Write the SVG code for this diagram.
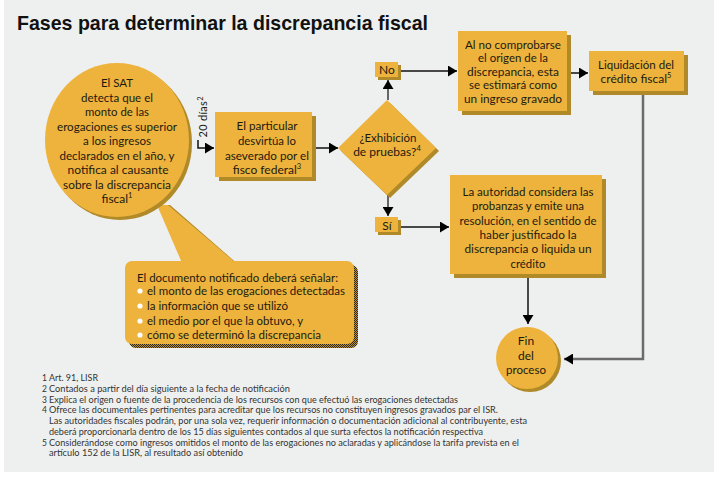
<svg xmlns="http://www.w3.org/2000/svg" width="720" height="480" viewBox="0 0 720 480">
<defs>
<style>
.gold{fill:#edb33c}
.sh{fill:#b08929}
.t{font-family:Lato,"Open Sans",sans-serif;font-size:12px;fill:#1e1a10;text-anchor:middle}
.s{font-size:11px}
.l{font-family:Lato,"Open Sans",sans-serif;font-size:11px;fill:#1e1a10}
.fn{font-family:Lato,"Open Sans",sans-serif;font-size:8.5px;fill:#333}
.sup{font-size:7.5px}
.ln{fill:none;stroke:#111;stroke-width:1.5}
.lg{fill:none;stroke:#666;stroke-width:2}
.lr{fill:none;stroke:#6b6b6b;stroke-width:2.5}
</style>
<marker id="ah" markerUnits="userSpaceOnUse" markerWidth="10" markerHeight="11" refX="9" refY="5.5" orient="auto"><path d="M0,0 L9,5.5 L0,11 Z" fill="#000"/></marker>
<pattern id="chk" width="2" height="2" patternUnits="userSpaceOnUse"><rect width="2" height="2" fill="#b99030"/><rect width="1" height="1" fill="#2b2618"/><rect x="1" y="1" width="1" height="1" fill="#2b2618"/></pattern>
</defs>
<rect x="0" y="0" width="720" height="480" fill="#ffffff"/>
<rect x="4" y="0" width="710" height="472" fill="#eef0ef"/>
<text x="17" y="30" font-family="'Liberation Sans',Arial,sans-serif" font-weight="bold" font-size="21" fill="#111" textLength="411" lengthAdjust="spacingAndGlyphs">Fases para determinar la discrepancia fiscal</text>

<g id="connectors">
<path class="ln" d="M198,140 V148 H214" marker-end="url(#ah)"/>
<path class="ln" d="M315,148 H338" marker-end="url(#ah)"/>
<path class="lg" d="M388,100 V80" marker-end="url(#ah)"/>
<path class="ln" d="M401,71 H457" stroke="#333" marker-end="url(#ah)"/>
<path class="lg" d="M388,195 V216" marker-end="url(#ah)"/>
<path class="ln" d="M401,227 H449" stroke="#333" marker-end="url(#ah)"/>
<path class="ln" d="M570,73 H588" marker-end="url(#ah)"/>
<path class="lr" d="M643,94 V359 H564" marker-end="url(#ah)"/>
<path class="ln" d="M528,278 V324" marker-end="url(#ah)"/>
<text x="207" y="117" class="l" text-anchor="middle" transform="rotate(-90 207 117)" textLength="41">20 días<tspan class="sup" dy="-4">2</tspan></text>
</g>

<g id="n-documento">
<polygon class="sh" points="170,205 240,266 236,266 166,205"/>
<rect x="129" y="265" width="229" height="83" rx="7" fill="url(#chk)"/>
<rect x="125" y="261" width="229" height="83" rx="7" class="gold"/>
<polygon class="gold" points="157,205 168,205 236,263 182,263"/>
<text class="l" x="137" y="282" textLength="201" lengthAdjust="spacingAndGlyphs">El documento notificado deberá señalar:</text>
<g fill="#ffffff"><circle cx="140" cy="291" r="2.6"/><circle cx="140" cy="306" r="2.6"/><circle cx="140" cy="321" r="2.6"/><circle cx="140" cy="335" r="2.6"/></g>
<text class="l" x="147" y="295" textLength="198" lengthAdjust="spacingAndGlyphs">el monto de las erogaciones detectadas</text>
<text class="l" x="147" y="310" textLength="141" lengthAdjust="spacingAndGlyphs">la información que se utilizó</text>
<text class="l" x="147" y="325" textLength="156" lengthAdjust="spacingAndGlyphs">el medio por el que la obtuvo, y</text>
<text class="l" x="147" y="339" textLength="174" lengthAdjust="spacingAndGlyphs">cómo se determinó la discrepancia</text>
</g>

<g id="n-sat">
<ellipse cx="120" cy="143" rx="72" ry="77" class="sh"/>
<ellipse cx="117" cy="140" rx="72" ry="77" class="gold"/>
<text class="t" x="117" y="87" textLength="32" lengthAdjust="spacingAndGlyphs">El  SAT</text>
<text class="t" x="117" y="102" textLength="72" lengthAdjust="spacingAndGlyphs">detecta que el</text>
<text class="t" x="117" y="116" textLength="64" lengthAdjust="spacingAndGlyphs">monto de las</text>
<text class="t" x="117" y="131" textLength="120" lengthAdjust="spacingAndGlyphs">erogaciones es superior</text>
<text class="t" x="117" y="145" textLength="68" lengthAdjust="spacingAndGlyphs">a los ingresos</text>
<text class="t" x="117" y="160" textLength="115" lengthAdjust="spacingAndGlyphs">declarados en el año, y</text>
<text class="t" x="118" y="174" textLength="101" lengthAdjust="spacingAndGlyphs">notifica al  causante</text>
<text class="t" x="117" y="189" textLength="108" lengthAdjust="spacingAndGlyphs">sobre  la discrepancia</text>
<text class="t" x="117" y="203">fiscal<tspan class="sup" dy="-5">1</tspan></text>
</g>

<g id="n-particular">
<rect x="219" y="116" width="97" height="65" class="sh"/>
<rect x="215" y="112" width="97" height="65" class="gold"/>
<text class="t" x="267" y="130" textLength="61" lengthAdjust="spacingAndGlyphs">El particular</text>
<text class="t" x="267" y="145" textLength="58" lengthAdjust="spacingAndGlyphs">desvirtúa lo</text>
<text class="t" x="267" y="160" textLength="84" lengthAdjust="spacingAndGlyphs">aseverado por el</text>
<text class="t" x="267" y="174">fisco federal<tspan class="sup" dy="-5">3</tspan></text>
</g>

<g id="n-exhibicion">
<polygon class="sh" points="390,103 439,151 390,198 341,151"/>
<polygon class="gold" points="387,100 436,148 387,195 338,148"/>
<text class="t" x="388" y="142" textLength="57" lengthAdjust="spacingAndGlyphs">¿Exhibición</text>
<text class="t" x="387" y="156">de pruebas?<tspan class="sup" dy="-5">4</tspan></text>
</g>

<g id="n-no">
<rect x="378" y="65" width="23" height="15" class="sh"/>
<rect x="375" y="62" width="23" height="15" class="gold"/>
<text class="t" x="387" y="74">No</text>
</g>

<g id="n-si">
<rect x="378" y="220" width="23" height="15" class="sh"/>
<rect x="375" y="217" width="23" height="15" class="gold"/>
<text class="t" x="387" y="230">Sí</text>
</g>

<g id="n-estimara">
<rect x="462" y="35" width="109" height="80" class="sh"/>
<rect x="458" y="31" width="109" height="80" class="gold"/>
<text class="t s" x="513" y="49" textLength="96" lengthAdjust="spacingAndGlyphs">Al no comprobarse</text>
<text class="t s" x="513" y="62" textLength="70" lengthAdjust="spacingAndGlyphs">el origen de la</text>
<text class="t s" x="513" y="76" textLength="92" lengthAdjust="spacingAndGlyphs">discrepancia, esta</text>
<text class="t s" x="513" y="89" textLength="88" lengthAdjust="spacingAndGlyphs">se estimará como</text>
<text class="t s" x="513" y="103" textLength="98" lengthAdjust="spacingAndGlyphs">un ingreso gravado</text>
</g>

<g id="n-liquidacion">
<rect x="593" y="55" width="95" height="40" class="sh"/>
<rect x="589" y="51" width="95" height="40" class="gold"/>
<text class="t" x="636" y="69" textLength="76" lengthAdjust="spacingAndGlyphs">Liquidación del</text>
<text class="t" x="636" y="83">crédito fiscal<tspan class="sup" dy="-5">5</tspan></text>
</g>

<g id="n-autoridad">
<rect x="454" y="179" width="152" height="99" class="sh"/>
<rect x="450" y="175" width="152" height="99" class="gold"/>
<text class="t" x="528" y="196" textLength="131" lengthAdjust="spacingAndGlyphs">La autoridad considera las</text>
<text class="t" x="528" y="210" textLength="112" lengthAdjust="spacingAndGlyphs">probanzas y emite una</text>
<text class="t" x="528" y="225" textLength="137" lengthAdjust="spacingAndGlyphs">resolución, en el sentido de</text>
<text class="t" x="528" y="239" textLength="97" lengthAdjust="spacingAndGlyphs">haber justificado la</text>
<text class="t" x="528" y="253" textLength="127" lengthAdjust="spacingAndGlyphs">discrepancia o liquida un</text>
<text class="t" x="528" y="268" textLength="35" lengthAdjust="spacingAndGlyphs">crédito</text>
</g>

<g id="n-fin">
<circle cx="530" cy="361" r="31" class="sh"/>
<circle cx="527" cy="358" r="31" class="gold"/>
<text class="t" x="526" y="345">Fin</text>
<text class="t" x="526" y="360">del</text>
<text class="t" x="526" y="374" textLength="40" lengthAdjust="spacingAndGlyphs">proceso</text>
</g>

<g id="footnotes">
<text class="fn" x="42" y="381">1</text>
<text class="fn" x="49" y="381" textLength="49" lengthAdjust="spacingAndGlyphs">Art. 91, LISR</text>
<text class="fn" x="42" y="392">2</text>
<text class="fn" x="49" y="392" textLength="241" lengthAdjust="spacingAndGlyphs">Contados a partir del día siguiente a la fecha de notificación</text>
<text class="fn" x="42" y="402.5">3</text>
<text class="fn" x="49" y="402.5" textLength="409" lengthAdjust="spacingAndGlyphs">Explica el origen o fuente de la procedencia de los recursos con que efectuó las erogaciones detectadas</text>
<text class="fn" x="42" y="413">4</text>
<text class="fn" x="49" y="413" textLength="449" lengthAdjust="spacingAndGlyphs">Ofrece las documentales pertinentes para acreditar que los recursos no constituyen ingresos gravados par el ISR.</text>
<text class="fn" x="49" y="424" textLength="478" lengthAdjust="spacingAndGlyphs">Las autoridades fiscales podrán, por una sola vez, requerir información o documentación adicional al contribuyente, esta</text>
<text class="fn" x="49" y="435" textLength="434" lengthAdjust="spacingAndGlyphs">deberá proporcionarla dentro de los 15 días siguientes contados al que surta efectos la notificación respectiva</text>
<text class="fn" x="42" y="445.5">5</text>
<text class="fn" x="49" y="445.5" textLength="470" lengthAdjust="spacingAndGlyphs">Considerándose como ingresos omitidos el monto de las erogaciones no aclaradas y aplicándose la tarifa prevista en el</text>
<text class="fn" x="49" y="456" textLength="194" lengthAdjust="spacingAndGlyphs">artículo 152 de la LISR, al resultado así obtenido</text>
</g>
</svg>
